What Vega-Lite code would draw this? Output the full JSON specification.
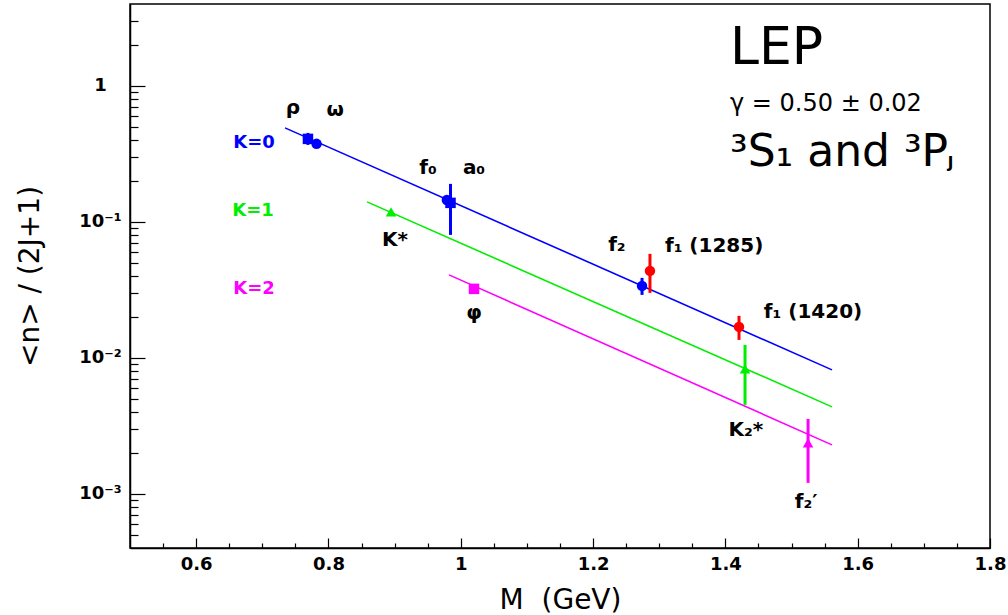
{
  "$schema": "https://vega.github.io/schema/vega-lite/v6.json",
  "width": 860,
  "height": 544,
  "autosize": {"type": "none"},
  "padding": {"left": 130, "top": 4, "right": 18, "bottom": 67},
  "background": "white",
  "config": {
    "font": "DejaVu Sans",
    "view": {"stroke": "black", "strokeWidth": 1.5},
    "axis": {"grid": false, "domainColor": "black", "domainWidth": 1.5, "tickColor": "black", "tickWidth": 1.2, "labelColor": "black", "titleColor": "black", "labelFont": "DejaVu Sans", "titleFont": "DejaVu Sans", "labelOverlap": false, "labelFlush": false, "labelBound": false}
  },
  "datasets": {
    "fits": [
      {"grp": "K=0", "M": 0.7343, "n": 0.491},
      {"grp": "K=0", "M": 1.5612, "n": 0.00816},
      {"grp": "K=1", "M": 0.8583, "n": 0.1403},
      {"grp": "K=1", "M": 1.5612, "n": 0.004363},
      {"grp": "K=2", "M": 0.9822, "n": 0.04076},
      {"grp": "K=2", "M": 1.5612, "n": 0.002293}
    ],
    "mesons": [
      {"name": "rho", "grp": "K=0", "marker": "square", "M": 0.769, "n": 0.4076, "lo": 0.368, "hi": 0.451},
      {"name": "omega", "grp": "K=0", "marker": "circle", "M": 0.782, "n": 0.3747},
      {"name": "f0", "grp": "K=0", "marker": "circle", "M": 0.979, "n": 0.145},
      {"name": "a0", "grp": "K=0", "marker": "square", "M": 0.9845, "n": 0.138, "lo": 0.0802, "hi": 0.1903},
      {"name": "f2", "grp": "K=0", "marker": "circle", "M": 1.274, "n": 0.03384, "lo": 0.02905, "hi": 0.03876},
      {"name": "f1(1285)", "grp": "f1", "marker": "circle", "M": 1.286, "n": 0.0436, "lo": 0.03006, "hi": 0.0582},
      {"name": "f1(1420)", "grp": "f1", "marker": "circle", "M": 1.4206, "n": 0.0169, "lo": 0.01356, "hi": 0.02037},
      {"name": "K*", "grp": "K=1", "marker": "triangle", "M": 0.8946, "n": 0.1184},
      {"name": "K2*", "grp": "K=1", "marker": "triangle", "M": 1.4297, "n": 0.0083, "lo": 0.004513, "hi": 0.01246},
      {"name": "phi", "grp": "K=2", "marker": "square", "M": 1.02, "n": 0.03217},
      {"name": "f2'", "grp": "K=2", "marker": "triangle", "M": 1.525, "n": 0.002371, "lo": 0.001205, "hi": 0.003559}
    ],
    "names": [
      {"t": "ρ", "M": 0.7464, "n": 0.689},
      {"t": "ω", "M": 0.81, "n": 0.666},
      {"t": "f₀", "M": 0.9505, "n": 0.2495},
      {"t": "a₀", "M": 1.02, "n": 0.2473},
      {"t": "K*", "M": 0.9006, "n": 0.0738},
      {"t": "φ", "M": 1.02, "n": 0.0214},
      {"t": "f₂", "M": 1.236, "n": 0.0677},
      {"t": "f₁ (1285)", "M": 1.383, "n": 0.0666},
      {"t": "f₁ (1420)", "M": 1.5325, "n": 0.0218},
      {"t": "K₂*", "M": 1.431, "n": 0.00296},
      {"t": "f₂′", "M": 1.522, "n": 0.000873}
    ],
    "klabels": [
      {"grp": "K=0", "M": 0.6875, "n": 0.3777},
      {"grp": "K=1", "M": 0.686, "n": 0.1195},
      {"grp": "K=2", "M": 0.6875, "n": 0.03217}
    ],
    "lep": [{"t": "LEP", "M": 1.407, "n": 1.902}],
    "gamma": [{"t": "γ = 0.50 ± 0.02", "M": 1.407, "n": 0.737}],
    "states": [{"t": "³S₁ and ³P", "M": 1.407, "n": 0.319}],
    "sub": [{"t": "J", "M": 1.736, "n": 0.27}]
  },
  "encoding": {
    "x": {
      "field": "M", "type": "quantitative",
      "scale": {"domain": [0.5, 1.8], "nice": false, "zero": false},
      "axis": {
        "values": [0.55, 0.6, 0.65, 0.7, 0.75, 0.8, 0.85, 0.9, 0.95, 1, 1.05, 1.1, 1.15, 1.2, 1.25, 1.3, 1.35, 1.4, 1.45, 1.5, 1.55, 1.6, 1.65, 1.7, 1.75, 1.8],
        "format": "~g",
        "labelExpr": "abs(datum.value*5-round(datum.value*5))<0.001 ? datum.label : ''",
        "tickSize": {"condition": {"test": "abs(datum.value*5-round(datum.value*5))<0.001", "value": -10}, "value": -5},
        "labelFontSize": 18, "labelFontWeight": "bold", "labelPadding": 17, "labelBaseline": "top",
        "title": "M\u00a0\u00a0(GeV)", "titleFontSize": 28, "titleFontWeight": "normal",
        "titleX": 430, "titleY": 60, "titleAlign": "center", "titleBaseline": "alphabetic"
      }
    },
    "y": {
      "field": "n", "type": "quantitative",
      "scale": {"type": "log", "domain": [0.0004, 4], "nice": false},
      "axis": {
        "values": [0.0005, 0.0006, 0.0007, 0.0008, 0.0009, 0.001, 0.002, 0.003, 0.004, 0.005, 0.006, 0.007, 0.008, 0.009, 0.01, 0.02, 0.03, 0.04, 0.05, 0.06, 0.07, 0.08, 0.09, 0.1, 0.2, 0.3, 0.4, 0.5, 0.6, 0.7, 0.8, 0.9, 1, 2, 3],
        "labelExpr": "datum.value==1 ? '1' : datum.value==0.1 ? '10⁻¹' : datum.value==0.01 ? '10⁻²' : datum.value==0.001 ? '10⁻³' : ''",
        "tickSize": {"condition": {"test": "datum.value==1 || datum.value==0.1 || datum.value==0.01 || datum.value==0.001", "value": -15}, "value": -8},
        "labelFontSize": 18, "labelFontWeight": "bold", "labelPadding": 45, "labelAlign": "center", "labelBaseline": "middle",
        "title": "<n> / (2J+1)", "titleFontSize": 28, "titleFontWeight": "normal",
        "titleX": -100, "titleY": 272, "titleAngle": -90, "titleAlign": "center", "titleBaseline": "middle"
      }
    }
  },
  "layer": [
    {
      "data": {"name": "fits"},
      "mark": {"type": "line", "strokeWidth": 1.6},
      "encoding": {
        "color": {"field": "grp", "type": "nominal", "legend": null,
          "scale": {"domain": ["K=0", "K=1", "K=2", "f1"], "range": ["#0000ff", "#00ee00", "#ff00ff", "#ff0000"]}},
        "detail": {"field": "grp"}
      }
    },
    {
      "data": {"name": "mesons"},
      "transform": [{"filter": "isValid(datum.lo)"}],
      "mark": {"type": "rule", "strokeWidth": 3},
      "encoding": {
        "y": {"field": "lo", "type": "quantitative"},
        "y2": {"field": "hi"},
        "color": {"field": "grp", "type": "nominal", "legend": null}
      }
    },
    {
      "data": {"name": "mesons"},
      "mark": {"type": "point", "filled": true, "opacity": 1, "size": 110},
      "encoding": {
        "color": {"field": "grp", "type": "nominal", "legend": null},
        "shape": {"field": "marker", "type": "nominal", "legend": null,
          "scale": {"domain": ["square", "circle", "triangle"], "range": ["square", "circle", "triangle-up"]}}
      }
    },
    {
      "data": {"name": "klabels"},
      "mark": {"type": "text", "fontSize": 18, "fontWeight": "bold", "align": "center", "baseline": "middle"},
      "encoding": {
        "text": {"field": "grp"},
        "color": {"field": "grp", "type": "nominal", "legend": null}
      }
    },
    {
      "data": {"name": "names"},
      "mark": {"type": "text", "fontSize": 20, "fontWeight": "bold", "align": "center", "baseline": "middle", "color": "black"},
      "encoding": {"text": {"field": "t"}}
    },
    {
      "data": {"name": "lep"},
      "mark": {"type": "text", "fontSize": 52, "align": "left", "baseline": "middle", "color": "black"},
      "encoding": {"text": {"field": "t"}}
    },
    {
      "data": {"name": "gamma"},
      "mark": {"type": "text", "fontSize": 24, "align": "left", "baseline": "middle", "color": "black"},
      "encoding": {"text": {"field": "t"}}
    },
    {
      "data": {"name": "states"},
      "mark": {"type": "text", "fontSize": 44, "align": "left", "baseline": "middle", "color": "black"},
      "encoding": {"text": {"field": "t"}}
    },
    {
      "data": {"name": "sub"},
      "mark": {"type": "text", "fontSize": 15, "fontWeight": "bold", "align": "left", "baseline": "middle", "color": "black"},
      "encoding": {"text": {"field": "t"}}
    }
  ]
}
